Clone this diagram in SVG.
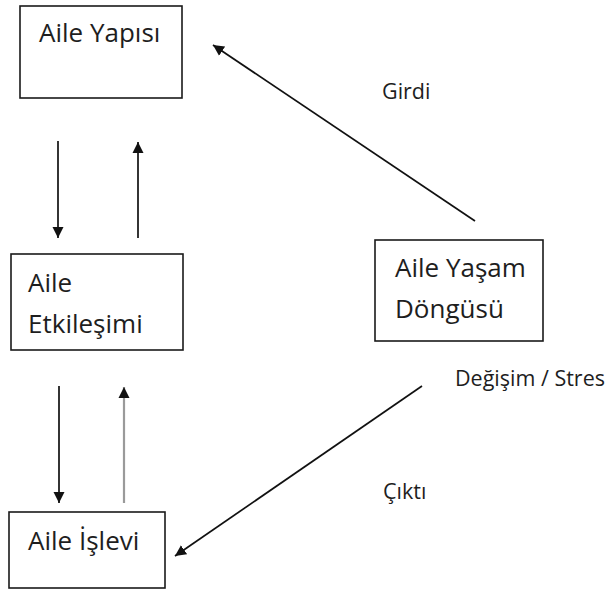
<svg xmlns="http://www.w3.org/2000/svg" width="614" height="590" viewBox="0 0 614 590">
  <defs>
    <style>
      .box { fill: #ffffff; stroke: #1a1a1a; stroke-width: 1.6; }
      .lbl { font-family: "Open Sans", "Noto Sans", "DejaVu Sans", sans-serif; font-size: 26px; fill: #1e1e1e; }
      .note { font-family: "Open Sans", "Noto Sans", "DejaVu Sans", sans-serif; font-size: 21.5px; fill: #1e1e1e; }
      .link { fill: none; stroke: #111111; stroke-width: 1.7; }
      .link.grey { stroke: #9a9a9a; stroke-width: 2.2; }
    </style>
    <marker id="head" viewBox="0 0 12 12" refX="11" refY="6" markerWidth="12" markerHeight="12" markerUnits="userSpaceOnUse" orient="auto">
      <path d="M0,0.5 L11,6 L0,11.5 Z" fill="#111111"/>
    </marker>
  </defs>
  <rect width="614" height="590" fill="#ffffff"/>

  <g id="aile-yapisi">
    <rect class="box" x="20" y="6" width="162" height="92"/>
    <text class="lbl" x="39" y="42">Aile Yapısı</text>
  </g>

  <g id="aile-etkilesimi">
    <rect class="box" x="11" y="254" width="172" height="96"/>
    <text class="lbl" x="28" y="292">Aile</text>
    <text class="lbl" x="28" y="333">Etkileşimi</text>
  </g>

  <g id="aile-islevi">
    <rect class="box" x="9" y="512" width="156" height="76"/>
    <text class="lbl" x="28" y="550">Aile İşlevi</text>
  </g>

  <g id="aile-yasam-dongusu">
    <rect class="box" x="375" y="240" width="168" height="101"/>
    <text class="lbl" x="395" y="277">Aile Yaşam</text>
    <text class="lbl" x="395" y="318">Döngüsü</text>
  </g>

  <g id="connectors">
    <line class="link" x1="58" y1="141" x2="58" y2="238" marker-end="url(#head)"/>
    <line class="link" x1="138" y1="238" x2="138" y2="142" marker-end="url(#head)"/>
    <line class="link" x1="59" y1="386" x2="59" y2="503" marker-end="url(#head)"/>
    <line class="link grey" x1="124" y1="503" x2="124" y2="387" marker-end="url(#head)"/>
    <line class="link" x1="475" y1="221" x2="213" y2="45" marker-end="url(#head)"/>
    <line class="link" x1="422" y1="386" x2="175" y2="556" marker-end="url(#head)"/>
  </g>

  <g id="labels">
    <text class="note" x="382" y="99">Girdi</text>
    <text class="note" x="455" y="386">Değişim / Stres</text>
    <text class="note" x="383" y="499">Çıktı</text>
  </g>
</svg>
